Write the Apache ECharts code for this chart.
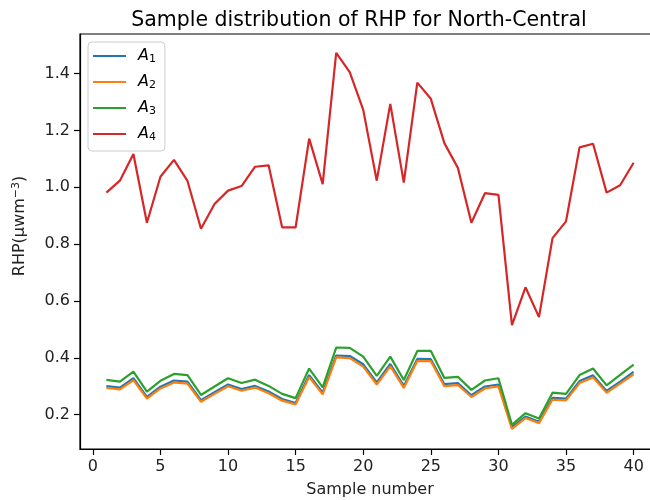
<!DOCTYPE html>
<html>
<head>
<meta charset="utf-8">
<script src="https://cdn.jsdelivr.net/npm/echarts@6/dist/echarts.min.js"></script>
<style>
  html, body { margin: 0; padding: 0; background: #fff; }
  #chart { width: 650px; height: 500px; }
</style>
</head>
<body>
<div id="chart"></div>
<script>
// Sample numbers 1..40
const samples = [1,2,3,4,5,6,7,8,9,10,11,12,13,14,15,16,17,18,19,20,
                 21,22,23,24,25,26,27,28,29,30,31,32,33,34,35,36,37,38,39,40];

// RHP values per sample for each series
const A1 = [0.300,0.295,0.328,0.262,0.298,0.320,0.316,0.251,0.279,0.306,
            0.290,0.301,0.281,0.255,0.241,0.339,0.277,0.408,0.406,0.377,
            0.313,0.378,0.301,0.396,0.395,0.307,0.311,0.268,0.299,0.306,
            0.155,0.193,0.175,0.259,0.256,0.318,0.338,0.283,0.316,0.350];
const A2 = [0.294,0.289,0.321,0.256,0.292,0.313,0.309,0.245,0.273,0.300,
            0.284,0.295,0.275,0.249,0.236,0.332,0.271,0.401,0.399,0.369,
            0.306,0.370,0.294,0.389,0.388,0.300,0.304,0.262,0.292,0.299,
            0.150,0.188,0.170,0.253,0.250,0.311,0.331,0.277,0.309,0.342];
const A3 = [0.322,0.316,0.351,0.281,0.319,0.343,0.339,0.269,0.299,0.328,
            0.311,0.323,0.301,0.273,0.258,0.362,0.296,0.436,0.435,0.404,
            0.336,0.404,0.322,0.424,0.424,0.329,0.333,0.287,0.320,0.328,
            0.164,0.205,0.186,0.277,0.273,0.339,0.362,0.303,0.340,0.376];
const A4 = [0.981,1.023,1.117,0.875,1.037,1.096,1.022,0.854,0.941,0.988,
            1.004,1.072,1.077,0.859,0.859,1.171,1.011,1.473,1.405,1.272,
            1.023,1.293,1.016,1.368,1.311,1.155,1.068,0.875,0.979,0.973,
            0.515,0.648,0.543,0.821,0.880,1.140,1.153,0.981,1.007,1.086];

const seriesNames = ['A1', 'A2', 'A3', 'A4'];
const seriesValues = [A1, A2, A3, A4];
const colors = ['#1f77b4', '#ff7f0e', '#2ca02c', '#d62728'];

// Tick labels
const xTicks = [0, 5, 10, 15, 20, 25, 30, 35, 40];
const yTicks = [0.2, 0.4, 0.6, 0.8, 1.0, 1.2, 1.4];

const FONT = 'DejaVu Sans';
const chart = echarts.init(document.getElementById('chart'), null, { renderer: 'canvas' });

chart.setOption({
  animation: false,
  backgroundColor: '#fff',
  color: colors,
  title: {
    text: 'Sample distribution of RHP for North-Central',
    left: 354,
    textAlign: 'center',
    top: 5,
    textStyle: { fontFamily: FONT, fontSize: 20.5, fontWeight: 'normal', color: '#000' }
  },
  grid: {
    left: 80, top: 34, width: 580, height: 415,
    outerBoundsMode: 'none',
    containLabel: false,
    show: true, borderColor: '#000', borderWidth: 1.2, backgroundColor: 'transparent'
  },
  legend: {
    orient: 'vertical',
    left: 88, top: 42,
    padding: [5, 9, 8, 5],
    itemGap: 8,
    itemWidth: 33, itemHeight: 2.2,
    icon: 'rect',
    backgroundColor: 'rgba(255,255,255,0.8)',
    borderColor: '#cccccc', borderWidth: 1, borderRadius: 4,
    data: seriesNames,
    formatter: name => '{sp|}{i|A}{s|' + name.slice(1) + '}',
    textStyle: {
      fontFamily: FONT, color: '#000',
      rich: {
        sp: { width: 7 },
        i: { fontFamily: FONT, fontStyle: 'italic', fontSize: 16, lineHeight: 18, color: '#000' },
        s: { fontFamily: FONT, fontSize: 11, lineHeight: 18, padding: [7, 0, 0, 0], color: '#000' }
      }
    }
  },
  xAxis: {
    type: 'value',
    min: -0.95, max: 41.95,
    splitLine: { show: false },
    axisLine: { show: true, onZero: false, lineStyle: { color: '#000', width: 1.2 } },
    axisTick: { show: true, length: 6, customValues: xTicks, lineStyle: { color: '#000', width: 1.2 } },
    axisLabel: { customValues: xTicks, margin: 10, fontFamily: FONT, fontSize: 16, color: '#222' },
    name: 'Sample number',
    nameLocation: 'middle',
    nameGap: 33,
    nameTextStyle: { fontFamily: FONT, fontSize: 16, color: '#222' }
  },
  yAxis: {
    type: 'value',
    min: 0.079, max: 1.539,
    splitLine: { show: false },
    axisLine: { show: true, onZero: false, lineStyle: { color: '#000', width: 1.2 } },
    axisTick: { show: true, length: 6, customValues: yTicks, lineStyle: { color: '#000', width: 1.2 } },
    axisLabel: { customValues: yTicks, margin: 10, fontFamily: FONT, fontSize: 16, color: '#222',
                 formatter: v => v.toFixed(1) }
  },
  graphic: [{
    type: 'text',
    x: 20, y: 226,
    rotation: Math.PI / 2,
    style: {
      text: '{b|RHP(μwm}{p|−3}{b|)}',
      align: 'center', verticalAlign: 'middle',
      rich: {
        b: { fontFamily: FONT, fontSize: 16, lineHeight: 20, fill: '#222' },
        p: { fontFamily: FONT, fontSize: 11, lineHeight: 20, padding: [0, 0, 8, 0], fill: '#222' }
      }
    }
  }],
  series: seriesNames.map((name, k) => ({
    name: name,
    type: 'line',
    symbol: 'none',
    lineStyle: { width: 2.2, color: colors[k] },
    itemStyle: { color: colors[k] },
    z: 2 + k,
    data: samples.map((s, i) => [s, seriesValues[k][i]])
  }))
});
</script>
</body>
</html>
